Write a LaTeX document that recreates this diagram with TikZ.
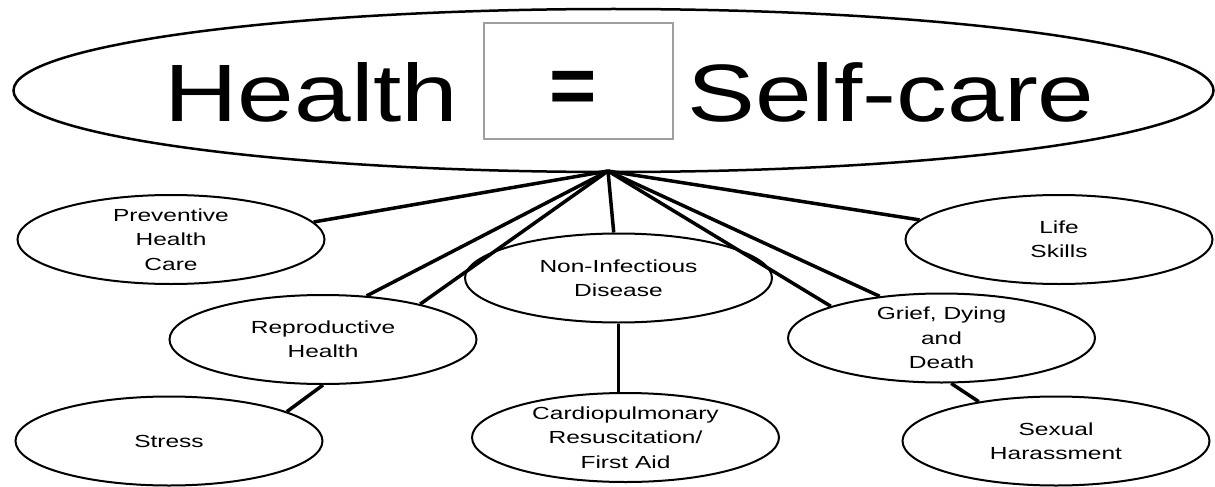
\documentclass[tikz,border=0pt]{standalone}
\usepackage{fontspec}
\setmainfont{Liberation Sans}
\newfontfamily\bigfont[FakeStretch=1.25]{Liberation Sans}
\newfontfamily\smallfont[FakeStretch=1.4]{Liberation Sans}
\usetikzlibrary{shapes.geometric}

\tikzset{
  topic/.style={draw, ellipse, line width=2pt, minimum width=307pt, minimum height=89pt,
    inner sep=0pt, align=center, font=\smallfont\fontsize{17.5}{24.3}\selectfont},
  bigword/.style={anchor=base, font=\bigfont\fontsize{81.4}{90}\selectfont},
  link/.style={line width=3.5pt},
}

\begin{document}
\begin{tikzpicture}[x=1pt,y=-1pt]
\useasboundingbox (0,0) rectangle (1215,487);
% Draw the big ellipse with the title in it
\node[draw, ellipse, line width=2.5pt, minimum width=1200pt, minimum height=163pt, inner sep=0pt] (title) at (613.5,90.5) {};
\node[bigword] (health) at (311.5,121.7) {Health};
\node[bigword] (selfcare) at (891,121.7) {Self-care};
\node[draw=gray!75, line width=2pt, minimum width=189pt, minimum height=116pt] (eqbox) at (578,81.3) {};
\node[font=\bfseries\fontsize{81}{90}\selectfont, inner sep=0pt] (equals) at (573.5,92) {=};
\coordinate (apex) at (608,171);

% Draw the topics
\node[topic] (prev) at (171,239.5) {Preventive\\Health\\Care};
\node[topic] (life) at (1059,239.5) {Life\\Skills};
\node[topic] (noninf) at (618.5,278) {Non-Infectious\\Disease};
\node[topic] (repro) at (323,339.5) {Reproductive\\Health};
\node[topic] (grief) at (941.5,338) {Grief, Dying\\and\\Death};
\node[topic] (stress) at (169,441) {Stress};
\node[topic] (cardio) at (625.5,437.5) {Cardiopulmonary\\Resuscitation/\\First Aid};
\node[topic] (sexual) at (1056,441) {Sexual\\Harassment};

% Draw the links from the title
\foreach \target in {prev.7, life.172, noninf.96, repro.45, repro.20, grief.164, grief.146} {
    \draw[link] (apex) -- (\target);
}
% Draw the links between topics
\draw[link] (repro.south) -- (stress.14);
\draw[link] (noninf.south) -- (noninf.south |- cardio.north);
\draw[link] (grief.-78) -- (sexual.153);
\end{tikzpicture}
\end{document}
